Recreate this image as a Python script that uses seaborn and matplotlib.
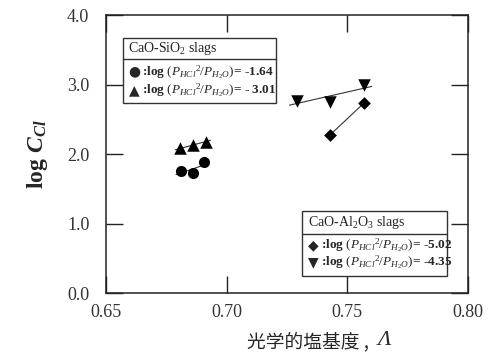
import numpy as np
import pandas as pd
import matplotlib
matplotlib.use("Agg")
import matplotlib.pyplot as plt
import seaborn as sns
from matplotlib.patches import Rectangle

# Optical basicity and log C_Cl for each slag system / gas condition
sio2_circle_x = [0.6810, 0.6862, 0.6907]
sio2_circle_y = [1.76, 1.72, 1.88]
sio2_tri_x = [0.6807, 0.6862, 0.6913]
sio2_tri_y = [2.08, 2.13, 2.18]
al2o3_diamond_x = [0.7427, 0.7571]
al2o3_diamond_y = [2.27, 2.74]
al2o3_vtri_x = [0.7290, 0.7427, 0.7571]
al2o3_vtri_y = [2.77, 2.75, 2.99]

x_ticks = [0.65, 0.70, 0.75, 0.80]
y_ticks = [0.0, 1.0, 2.0, 3.0, 4.0]

sns.set_theme(style="ticks")
plt.rcParams["font.family"] = ["Liberation Serif", "DejaVu Sans"]
plt.rcParams["mathtext.fontset"] = "custom"
plt.rcParams["mathtext.rm"] = "Liberation Serif"
plt.rcParams["mathtext.it"] = "Liberation Serif:italic"
plt.rcParams["mathtext.bf"] = "Liberation Serif:bold"
plt.rcParams["mathtext.bfit"] = "Liberation Serif:italic:bold"

fig = plt.figure(figsize=(4.89, 3.60), dpi=100)
ax = fig.add_axes([0.2168, 0.186, 0.7402, 0.7723])

series = [
    (sio2_circle_x, sio2_circle_y, "o", 8.0, 0.002),
    (sio2_tri_x, sio2_tri_y, "^", 9.0, 0.002),
    (al2o3_diamond_x, al2o3_diamond_y, "D", 6.5, -0.0008),
    (al2o3_vtri_x, al2o3_vtri_y, "v", 9.0, 0.003),
]

for xs, ys, mk, ms, pad in series:
    xs = np.asarray(xs)
    ys = np.asarray(ys)
    k, b = np.polyfit(xs, ys, 1)
    xl = np.array([xs.min() - pad, xs.max() + pad])
    sns.lineplot(x=xl, y=k * xl + b, ax=ax, color="#333333", lw=0.8,
                 zorder=2)
    sns.scatterplot(x=xs, y=ys, ax=ax, marker=mk, s=ms ** 2, color="black",
                    edgecolor="black", linewidth=0, zorder=3)

ax.set_xlim(0.65, 0.80)
ax.set_ylim(0.0, 4.0)
ax.set_xticks(x_ticks)
ax.set_yticks(y_ticks)
ax.set_xticklabels([f"{v:.2f}" for v in x_ticks], fontsize=13)
ax.set_yticklabels([f"{v:.1f}" for v in y_ticks], fontsize=13)
ax.tick_params(direction="in", length=12, width=1.0, color="#222222",
               top=True, right=True, labelcolor="#333333")
ax.tick_params(axis="y", pad=12)
ax.tick_params(axis="x", pad=8)
for s in ax.spines.values():
    s.set_linewidth(1.1)
    s.set_color("#222222")

ax.set_ylabel(r"log $\mathbfit{C}_{\mathbfit{Cl}}$", fontsize=17,
              fontweight="bold", labelpad=12)
ax.text(0.565, -0.175, "光学的塩基度 , ", transform=ax.transAxes,
        ha="center", va="center", fontsize=13.5,
        family=["Noto Sans CJK JP", "DejaVu Sans"])
ax.text(0.75, -0.172, "Λ", transform=ax.transAxes, style="italic",
        ha="left", va="center", fontsize=16)


def legend_box(x0, x1, y_bot, y_sep, y_top, title, entries):
    ax.add_patch(Rectangle((x0, y_bot), x1 - x0, y_top - y_bot,
                           transform=ax.transAxes, fill=True, fc="white",
                           ec="#333333", lw=1.0, zorder=5))
    ax.plot([x0, x1], [y_sep, y_sep], transform=ax.transAxes,
            color="#333333", lw=1.0, zorder=6)
    ax.text(x0 + 0.016, (y_top + y_sep) / 2, title, transform=ax.transAxes,
            ha="left", va="center", fontsize=10, color="#222222", zorder=7)
    for ypos, sym, txt in entries:
        ax.text(x0 + 0.016, ypos, sym, transform=ax.transAxes, ha="left",
                va="center", fontsize=10, family=["DejaVu Sans"], zorder=7)
        ax.text(x0 + 0.054, ypos, txt, transform=ax.transAxes, ha="left",
                va="center", fontsize=9.5, fontweight="bold", zorder=7)


expr = r"$(P_{HCl}{}^{2}/P_{H_2O})$"
legend_box(0.046, 0.47, 0.685, 0.841, 0.917, r"CaO-SiO$_2$ slags",
           [(0.796, "●", ":log " + expr + "= -1.64"),
            (0.728, "▲", ":log " + expr + "= - 3.01")])
legend_box(0.541, 0.943, 0.061, 0.214, 0.295, r"CaO-Al$_2$O$_3$ slags",
           [(0.172, "◆", ":log " + expr + "= -5.02"),
            (0.112, "▼", ":log " + expr + "= -4.35")])

fig.savefig("out.png", dpi=100, facecolor="white")
